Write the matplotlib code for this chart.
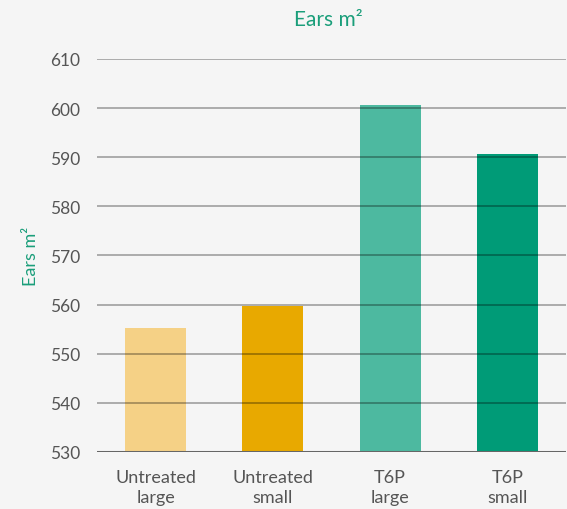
import matplotlib
matplotlib.use("Agg")
import matplotlib.pyplot as plt

categories = ["Untreated\nlarge", "Untreated\nsmall", "T6P\nlarge", "T6P\nsmall"]
values = [555.2, 559.7, 600.7, 590.6]
colors = ["#F5D186", "#E8A900", "#4DB9A0", "#009B77"]
yticks = [530, 540, 550, 560, 570, 580, 590, 600, 610]

plt.rcParams['font.family'] = ['Lato', 'DejaVu Sans']
bg = "#F5F5F5"
green = "#1A9E7A"

fig = plt.figure(figsize=(5.67, 5.10), dpi=100, facecolor=bg)
ax = fig.add_axes([97/567, 57/510, 469/567, 393/510], facecolor=bg)

x = list(range(len(categories)))
ax.bar(x, [v - 530 for v in values], bottom=530, width=0.52, color=colors, zorder=1)
ax.set_xlim(-0.5, 3.5)
ax.set_ylim(530, 610)
ax.set_yticks(yticks)
ax.set_xticks(x)
ax.set_xticklabels(categories, fontsize=13, color="#555555", linespacing=1.35)
ax.tick_params(axis='y', labelsize=12.5, labelcolor="#555555", length=0, pad=12)
ax.tick_params(axis='x', length=0, pad=12)
for t in yticks[1:]:
    ax.axhline(t, color="black", alpha=0.38, linewidth=1.1, zorder=3)
ax.axhline(530, color="#666666", linewidth=2.2, zorder=4)
for s in ax.spines.values():
    s.set_visible(False)
ax.set_ylabel("Ears m²", color=green, fontsize=13, labelpad=8)
fig.text(328/567, 1 - 20/510, "Ears m²", color=green, fontsize=15, ha="center", va="center")
fig.savefig("out.png", dpi=100, facecolor=bg)
